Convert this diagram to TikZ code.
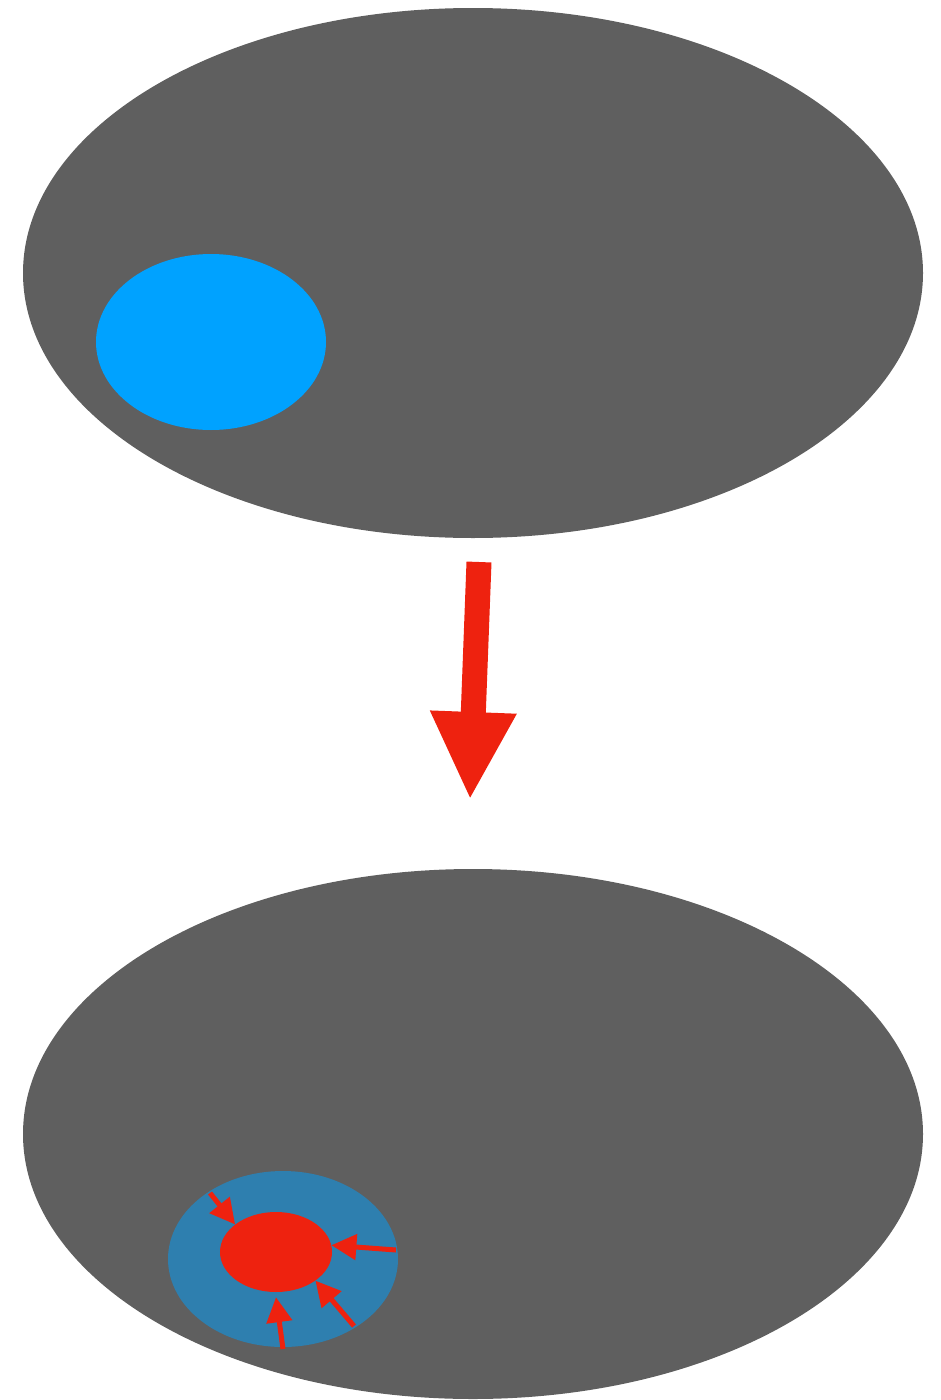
\documentclass[tikz,border=0pt]{standalone}
\usepackage{tikz}
\usetikzlibrary{arrows.meta,positioning,shapes.geometric}
\definecolor{cellgrey}{HTML}{5F5F5F}
\definecolor{dropblue}{HTML}{00A2FF}
\definecolor{ringblue}{HTML}{2E7FAF}
\definecolor{hotred}{HTML}{EE220F}
\tikzset{
  cell/.style={ellipse, fill=cellgrey, inner sep=0pt,
               minimum width=900pt, minimum height=530pt},
  drop/.style={ellipse, fill=dropblue, inner sep=0pt,
               minimum width=230pt, minimum height=176pt},
  ring/.style={ellipse, fill=ringblue, inner sep=0pt,
               minimum width=230pt, minimum height=176pt},
  core/.style={ellipse, fill=hotred, inner sep=0pt,
               minimum width=112pt, minimum height=80pt},
  bigarrow/.style={-{Triangle[width=80pt,length=88pt]}, hotred, line width=25pt},
  push/.style={-{Triangle[width=25pt,length=25pt]}, hotred, line width=5pt}
}
\begin{document}
\begin{tikzpicture}[x=1pt,y=-1pt]
  \useasboundingbox (0,0) rectangle (941,1400);
  % before
  \node[cell] (top) at (473,273) {};
  \node[drop] (blob) at (211,342) {};
  % after
  \node[cell] (bottom) at (473,1134) {};
  \node[ring] (halo) at (283,1259) {};
  \node[core] (clot) at (276,1252) {};

  \coordinate (from) at (479,562);
  \coordinate (to) at (470,800);
  \draw[bigarrow] (from) -- (to);

  \coordinate (p1) at (210,1193);
  \coordinate (p2) at (396,1250);
  \coordinate (p3) at (354,1326);
  \coordinate (p4) at (283,1349);
  \draw[push] (p1) -- (clot.146);
  \draw[push] (p2) -- (clot.7);
  \draw[push] (p3) -- (clot.-36);
  \draw[push] (p4) -- ([yshift=-5pt]clot.-90);
\end{tikzpicture}
\end{document}
